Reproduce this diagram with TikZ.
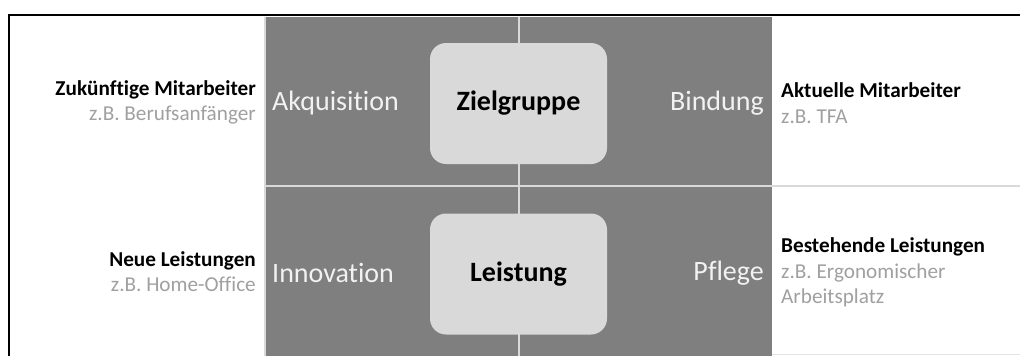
\documentclass[tikz,border=0pt]{standalone}
\usepackage{fontspec}
\setmainfont{Carlito}[RawFeature={-liga}]
\definecolor{quad}{HTML}{7F7F7F}
\definecolor{divider}{HTML}{D9D9D9}
\definecolor{boxfill}{HTML}{D9D9D9}
\definecolor{note}{HTML}{A0A0A0}
\definecolor{quadtext}{HTML}{F2F2F2}
\tikzset{
  bigfont/.style={font=\fontsize{28}{32}\selectfont},
  smallfont/.style={font=\fontsize{21.2}{25.5}\selectfont},
  tile/.style={draw=none, fill=boxfill, rounded corners=16pt, bigfont,
    minimum width=177pt, minimum height=121pt, text=black, inner sep=0pt},
  quadlabel/.style={bigfont, text=quadtext, inner sep=0pt},
  sidelabel/.style={smallfont, inner sep=0pt},
  divline/.style={draw=divider, line width=1.6pt},
}
\begin{document}
\begin{tikzpicture}[x=1pt,y=-1pt]
\useasboundingbox (0,0) rectangle (1020,356);
\fill[white] (0,0) rectangle (1020,356);

% grey quadrant field
\fill[quad] (265,17) rectangle (772,356);
\draw[divline] (265,17) -- (265,356);
\draw[divline] (265,186) -- (1020,186);
\draw[divline] (519,17) -- (519,356);
\draw[draw=divider!70, line width=1pt] (772,354.5) -- (1020,354.5);

% outer frame
\draw[black, line width=2pt] (9,356) -- (9,15) -- (1020,15);

% central tiles
\node[tile] (ziel) at (518.5,103.5) {\textbf{Zielgruppe}};
\node[tile] (leist) at (518.5,274) {\textbf{Leistung}};

% quadrant labels
\node[quadlabel, anchor=west] (akq) at (272,103) {Akquisition};
\node[quadlabel, anchor=east] (bind) at (764,103) {Bindung};
\node[quadlabel, anchor=west] (inno) at (272,273) {Innovation};
\node[quadlabel, anchor=east] (pfl) at (764,273) {Pflege};

% side descriptions
\node[sidelabel, anchor=east, align=right] (zuk) at (256,102.5)
  {\textbf{Zukünftige Mitarbeiter}\\\textcolor{note}{z.B. Berufsanfänger}};
\node[sidelabel, anchor=east, align=right] (neu) at (256,271.5)
  {\textbf{Neue Leistungen}\\\textcolor{note}{z.B. Home-Office}};
\node[sidelabel, anchor=west, align=left] (akt) at (781,103)
  {\textbf{Aktuelle Mitarbeiter}\\\textcolor{note}{z.B. TFA}};
\node[sidelabel, anchor=west, align=left] (best) at (781,272.5)
  {\textbf{Bestehende Leistungen}\\\textcolor{note}{z.B. Ergonomischer}\\\textcolor{note}{Arbeitsplatz}};
\end{tikzpicture}
\end{document}
